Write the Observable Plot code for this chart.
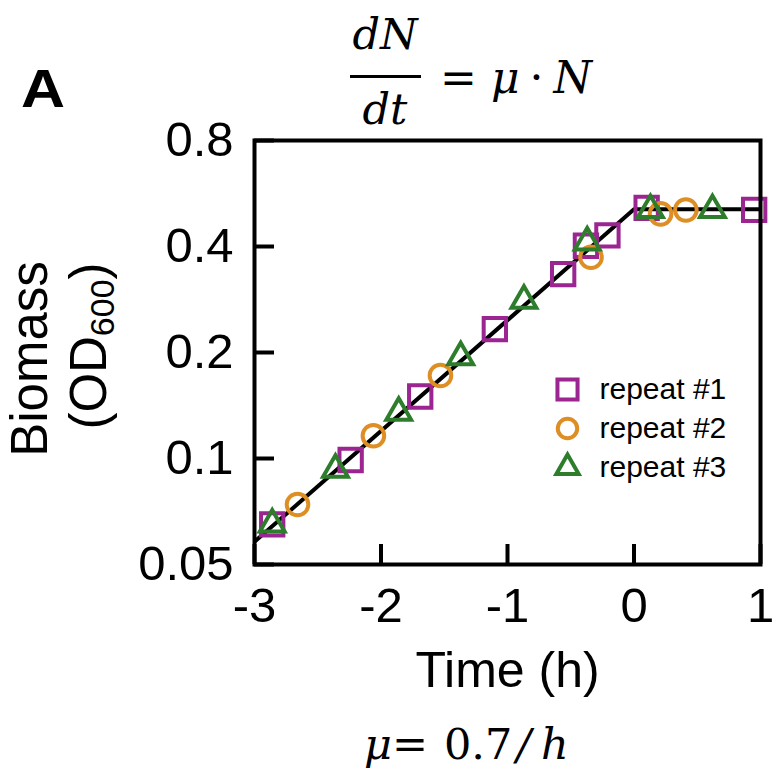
<!DOCTYPE html>
<html>
<head>
<meta charset="utf-8">
<script src="https://cdn.jsdelivr.net/npm/d3@7"></script>
<script src="https://cdn.jsdelivr.net/npm/@observablehq/plot@0.6"></script>
<style>
  body { margin: 0; background: #fff; }
  #wrap { position: relative; width: 778px; height: 771px; overflow: hidden; background: #fff; color: #000; }
  #chart { position: absolute; left: 0; top: 115px; }
  .m { position: absolute; font-family: "DejaVu Serif", "Liberation Serif", serif; font-style: italic; line-height: 1; white-space: nowrap; }
  .up { font-style: normal; }
</style>
</head>
<body>
<div id="wrap">
  <div id="chart"></div>
  <div style="position:absolute;left:21px;top:62px;font:bold 53px 'Liberation Sans',Arial,sans-serif;line-height:1;transform:scaleX(1.15);transform-origin:left top">A</div>
  <div class="m" style="left:345px;width:80px;text-align:center;top:13px;font-size:43px">dN</div>
  <div style="position:absolute;left:350px;top:75px;width:71px;height:3px;background:#000"></div>
  <div class="m" style="left:345px;width:80px;text-align:center;top:88px;font-size:43px">dt</div>
  <div class="m" style="left:440px;top:56px;font-size:44px"><span class="up">=</span><span style="margin-left:14px">μ</span><span class="up" style="margin-left:10px">·</span><span style="margin-left:10px">N</span></div>
  <div class="m" style="left:364px;top:723px;font-size:43px">μ<span class="up">=</span><span class="up" style="margin-left:16px">0.7</span><span style="margin-left:4px">/</span><span style="margin-left:10px">h</span></div>
</div>
<script>
// ---- data ----
const seriesNames = ["repeat #1", "repeat #2", "repeat #3"];

const repeat1Time = [-2.86, -2.24, -1.69, -1.10, -0.56, -0.38, -0.21, 0.10, 0.95];
const repeat1OD   = [0.065, 0.099, 0.150, 0.233, 0.334, 0.402, 0.430, 0.515, 0.508];

const repeat2Time = [-2.66, -2.06, -1.53, -0.34, 0.21, 0.41];
const repeat2OD   = [0.074, 0.116, 0.172, 0.373, 0.495, 0.508];

const repeat3Time = [-2.86, -2.36, -1.86, -1.37, -0.87, -0.37, 0.13, 0.62];
const repeat3OD   = [0.065, 0.093, 0.135, 0.194, 0.281, 0.411, 0.508, 0.508];

const fitTime = [-3, 0, 1];
const fitOD   = [0.058, 0.51, 0.51];

const xTicks = [-3, -2, -1, 0, 1];
const yTicks = [0.05, 0.1, 0.2, 0.4, 0.8];
const yTickLabels = ["0.05", "0.1", "0.2", "0.4", "0.8"];

// ---- build tables ----
const toRows = (t, v) => t.map((d, i) => ({time: d, od: v[i]}));
const seriesRows = [toRows(repeat1Time, repeat1OD), toRows(repeat2Time, repeat2OD), toRows(repeat3Time, repeat3OD)];
const fitRows = toRows(fitTime, fitOD);
const yTickRows = yTicks.map((v, i) => ({v, label: yTickLabels[i]}));

const W = 778, H = 600, MT = 25, MB = 151, ML = 254, MR = 18, TICK = 20;
const frameW = W - ML - MR, frameH = H - MT - MB;

const style = [
  {symbol: "square", stroke: "#9b2591", r: 12.6},
  {symbol: "circle", stroke: "#dd8f26", r: 10.8},
  {symbol: "triangle", stroke: "#2d7d2d", r: 9.2}
];

const marks = [
  Plot.line(fitRows, {x: "time", y: "od", stroke: "#000", strokeWidth: 4, clip: true})
];
seriesRows.forEach((rows, i) => {
  marks.push(Plot.dot(rows, {x: "time", y: "od", symbol: () => style[i].symbol, r: style[i].r, stroke: style[i].stroke, strokeWidth: 4, fill: "none"}));
});
marks.push(
  // inward ticks on bottom and left
  Plot.tickX(xTicks, {x: d => d, insetTop: frameH - TICK, stroke: "#000", strokeWidth: 4}),
  Plot.tickY(yTicks, {y: d => d, insetRight: frameW - TICK, stroke: "#000", strokeWidth: 4}),
  Plot.frame({stroke: "#000", strokeWidth: 4}),
  Plot.axisX({ticks: xTicks, tickSize: 0, tickPadding: 23, fontSize: 49, tickFormat: d => String(d), label: null}),
  Plot.text(yTickRows, {y: "v", text: "label", frameAnchor: "left", dx: -21, textAnchor: "end", lineAnchor: "middle", fontSize: 49}),
  Plot.text(["Time (h)"], {frameAnchor: "bottom", dy: 106, fontSize: 50, lineAnchor: "middle"})
);
seriesNames.forEach((name, i) => {
  marks.push(
    Plot.dot([name], {frameAnchor: "top-left", dx: 313, dy: 249 + 39 * i, symbol: () => style[i].symbol, r: style[i].r * 0.9, stroke: style[i].stroke, strokeWidth: 4, fill: "none"}),
    Plot.text([name], {frameAnchor: "top-left", dx: 345, dy: 249 + 39 * i, textAnchor: "start", lineAnchor: "middle", fontSize: 30})
  );
});

const chart = Plot.plot({
  width: W,
  height: H,
  marginTop: MT,
  marginBottom: MB,
  marginLeft: ML,
  marginRight: MR,
  style: {fontFamily: "'Liberation Sans', Arial, sans-serif", color: "#000", background: "transparent", overflow: "visible"},
  x: {domain: [-3, 1], label: null},
  y: {type: "log", domain: [0.05, 0.8], label: null, axis: null},
  symbol: {type: "identity"},
  marks
});

// y-axis title (two lines, with subscript)
const svg = d3.select(chart);
const ylab = svg.append("g")
  .attr("font-family", "'Liberation Sans', Arial, sans-serif")
  .attr("fill", "#000")
  .attr("text-anchor", "middle");
ylab.append("text")
  .attr("transform", "translate(47,244) rotate(-90)")
  .attr("font-size", 51)
  .text("Biomass");
const t2 = ylab.append("text")
  .attr("transform", "translate(106,231) rotate(-90)")
  .attr("font-size", 51);
t2.append("tspan").text("(OD");
t2.append("tspan").attr("font-size", 34).attr("dy", 8).text("600");
t2.append("tspan").attr("dy", -8).text(")");

document.getElementById("chart").appendChild(chart);
</script>
</body>
</html>
